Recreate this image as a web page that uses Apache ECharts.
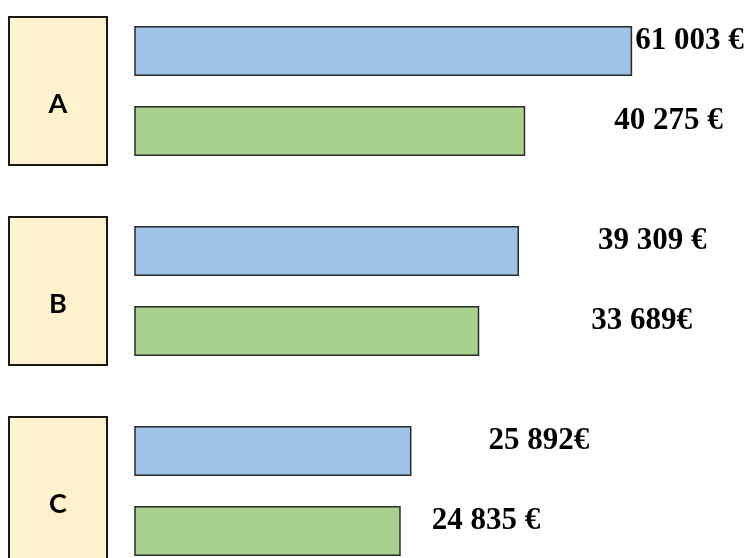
<!DOCTYPE html>
<html>
<head>
<meta charset="utf-8">
<style>
  html, body { margin: 0; padding: 0; background: #ffffff; }
  #chart { width: 750px; height: 558px; }
</style>
<script src="https://cdn.jsdelivr.net/npm/echarts@6/dist/echarts.min.js"></script>
</head>
<body>
<div id="chart"></div>
<script>
// ---- data ----
const categories = ['A', 'B', 'C'];
const blueValues = [61003, 39309, 25892];
const greenValues = [40275, 33689, 24835];
const blueLabels = ['61 003 €', '39 309 €', '25 892€'];
const greenLabels = ['40 275 €', '33 689€', '24 835 €'];

// ---- styles (label gaps to the right of each bar end) ----
const blueLabelGap = [3, 79, 77];
const greenLabelGap = [89, 112, 31];

function items(values, labels, gaps) {
  return values.map((v, i) => ({
    value: v,
    label: { formatter: labels[i], offset: [gaps[i], -10] }
  }));
}

const labelStyle = {
  show: true,
  position: 'right',
  distance: 0,
  fontFamily: '"Liberation Serif", "Times New Roman", serif',
  fontWeight: 'bold',
  fontSize: 31,
  color: '#000000'
};

const chart = echarts.init(document.getElementById('chart'), null, { renderer: 'canvas' });
chart.setOption({
  animation: false,
  backgroundColor: '#ffffff',
  grid: { left: 135, right: 0, top: -9, height: 600, outerBoundsMode: 'none', containLabel: false },
  xAxis: {
    type: 'log',
    min: 8850,
    max: 96400,
    show: false
  },
  yAxis: {
    type: 'category',
    inverse: true,
    data: categories,
    axisLine: { show: false },
    axisTick: { show: false },
    splitLine: { show: false },
    axisLabel: {
      margin: 77,
      align: 'center',
      verticalAlign: 'middle',
      formatter: (v) => '{t|' + v + '}',
      width: 96,
      height: 146,
      backgroundColor: '#FFF2CC',
      borderColor: '#1a1a1a',
      borderWidth: 2,
      rich: {
        t: {
          fontFamily: 'Lato, "Open Sans", sans-serif',
          fontWeight: 'bold',
          fontSize: 27,
          color: '#000000',
          lineHeight: 172,
          align: 'center'
        }
      }
    }
  },
  series: [
    {
      name: 'blue',
      type: 'bar',
      barWidth: 50,
      barGap: '60%',
      clip: true,
      itemStyle: { color: '#9DC3E6', borderColor: '#2b2b2b', borderWidth: 1.5 },
      label: labelStyle,
      data: items(blueValues, blueLabels, blueLabelGap)
    },
    {
      name: 'green',
      type: 'bar',
      barWidth: 50,
      clip: true,
      itemStyle: { color: '#A9D18E', borderColor: '#2b2b2b', borderWidth: 1.5 },
      label: labelStyle,
      data: items(greenValues, greenLabels, greenLabelGap)
    }
  ]
});
</script>
</body>
</html>
